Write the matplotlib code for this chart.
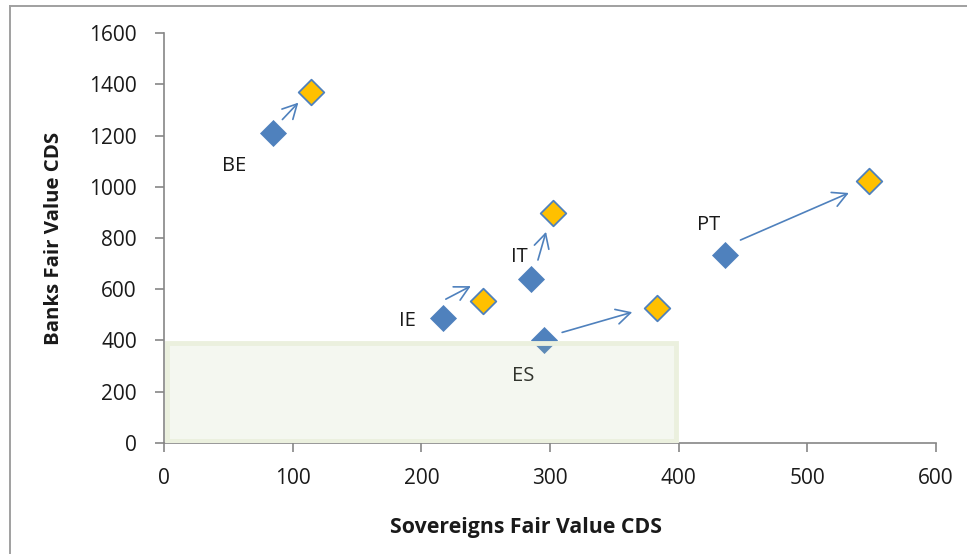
import matplotlib
matplotlib.use("Agg")
import matplotlib.pyplot as plt
from matplotlib.patches import Rectangle
from matplotlib.lines import Line2D

plt.rcParams['font.family'] = ['Open Sans', 'DejaVu Sans']

# Data
countries = ["BE", "IE", "IT", "ES", "PT"]
sov_before = [85, 217, 285, 295, 436]
bank_before = [1212, 486, 639, 400, 733]
sov_after = [114, 248, 302, 383, 548]
bank_after = [1369, 553, 898, 525, 1024]

# arrows (hand-drawn in original): tail and head in data units
arrow_from_x = [92, 219, 290.6, 309.4, 448]
arrow_from_y = [1263, 561, 714, 431, 792]
arrow_to_x = [104.4, 238.4, 296.9, 363.9, 532.2]
arrow_to_y = [1329, 612, 824, 510, 976]

# label offsets (points) relative to the "before" marker
label_dx = [-28, -26, -8, -14.5, -12]
label_dy = [-24, -2, 16, -26, 21.5]

# shaded region
region_x = (2, 398)
region_y = (8, 388)

fig = plt.figure(figsize=(9.67, 5.54), dpi=100)
ax = fig.add_axes([0.1696, 0.2009, 0.968 - 0.1696, 0.9399 - 0.2009])

blue = "#4F81BD"
yellow = "#FFC000"

ax.scatter(sov_before, bank_before, marker="D", s=190, color=blue, zorder=3, linewidths=0)
ax.scatter(sov_after, bank_after, marker="D", s=170, facecolor=yellow, edgecolor=blue,
           linewidths=1.3, zorder=3)

for x0, y0, x1, y1 in zip(arrow_from_x, arrow_from_y, arrow_to_x, arrow_to_y):
    ax.annotate("", xy=(x1, y1), xytext=(x0, y0),
                arrowprops=dict(arrowstyle="->,head_length=0.85,head_width=0.45",
                                color=blue, lw=1.2, shrinkA=0, shrinkB=0,
                                mutation_scale=12), zorder=4)

for name, x, y, dx, dy in zip(countries, sov_before, bank_before, label_dx, label_dy):
    ax.annotate(name, xy=(x, y), xytext=(dx, dy), textcoords="offset points",
                ha="center", va="center", fontsize=14.5, color="#1a1a1a")

rect = Rectangle((region_x[0], region_y[0]), region_x[1] - region_x[0], region_y[1] - region_y[0],
                 facecolor=(182/255, 202/255, 155/255, 0.15),
                 edgecolor=(235/255, 240/255, 222/255, 1.0), linewidth=3.5, zorder=5)
ax.add_patch(rect)

ax.set_xlim(0, 600)
ax.set_ylim(0, 1600)
ax.set_xticks(range(0, 601, 100))
ax.set_yticks(range(0, 1601, 200))

for s in ["top", "right"]:
    ax.spines[s].set_visible(False)
for s in ["left", "bottom"]:
    ax.spines[s].set_color("#868686")
    ax.spines[s].set_linewidth(1.2)
ax.tick_params(axis="both", colors="#868686", length=6.5, width=1.2, labelsize=15,
               labelcolor="#1a1a1a")
ax.tick_params(axis="y", pad=13)
ax.tick_params(axis="x", pad=12)

ax.set_xlabel("Sovereigns Fair Value CDS", fontsize=15.3, fontweight="bold", color="#1a1a1a",
              va="center", ha="center")
ax.xaxis.set_label_coords(0.4695, -0.208)
ax.set_ylabel("Banks Fair Value CDS", fontsize=14.7, fontweight="bold", color="#1a1a1a",
              va="center", ha="center")
ax.yaxis.set_label_coords(-0.1427, 0.5)

# figure frame (chart area border)
fig.add_artist(Line2D([9.5 / 967, 1.0], [1 - 6 / 554, 1 - 6 / 554], color="#a0a0a0", lw=1.4,
                      transform=fig.transFigure))
fig.add_artist(Line2D([9.5 / 967, 9.5 / 967], [0.0, 1 - 6 / 554], color="#a0a0a0", lw=1.4,
                      transform=fig.transFigure))

fig.savefig("out.png", dpi=100)
